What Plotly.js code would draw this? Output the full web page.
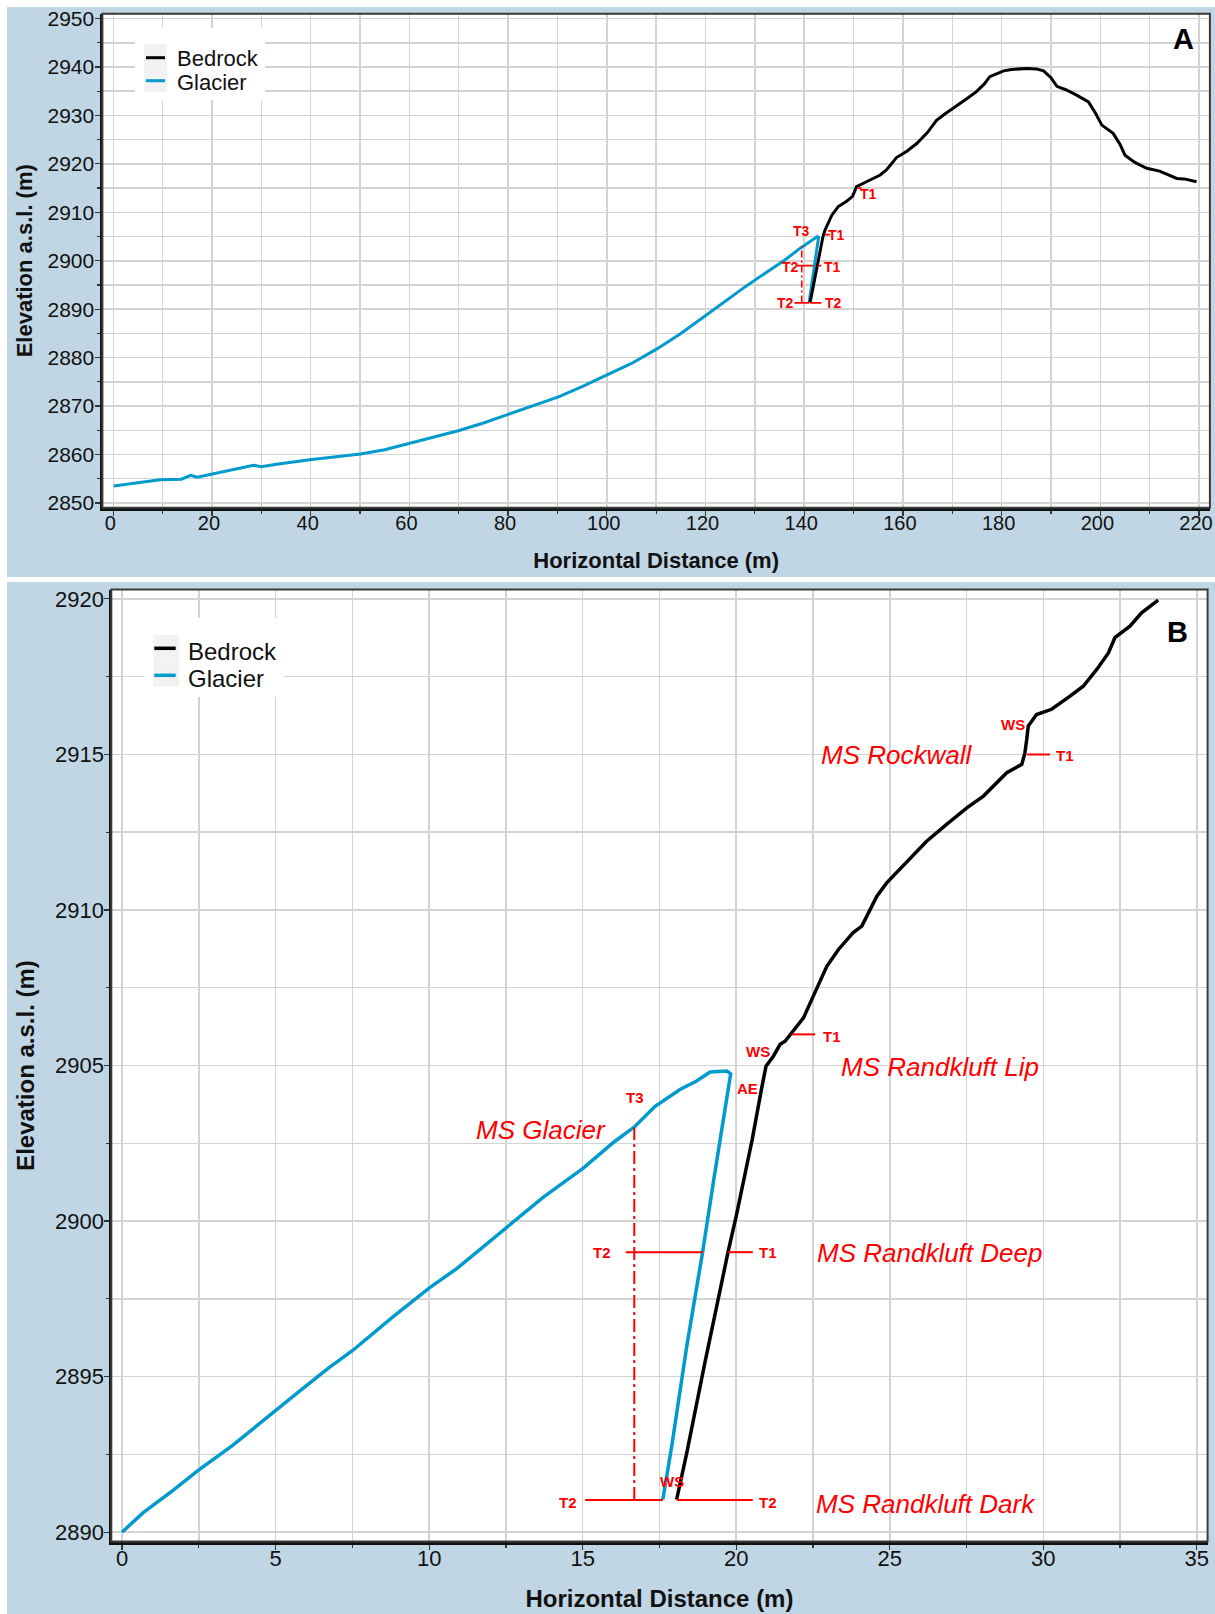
<!DOCTYPE html>
<html>
<head>
<meta charset="utf-8">
<script src="https://cdn.plot.ly/plotly-3.0.1.min.js"></script>
<style>html,body{margin:0;padding:0;background:#fff;}#chart{width:1215px;height:1614px;}</style>
</head>
<body>
<div id="chart"></div>
<script>
// ---------------- DATA ----------------
// Panel A (full profile)
const glacierA_x = [0.1,3,9.5,13.8,15.7,17,20,23.7,28.4,30,33.1,39.8,45.9,50.1,55,60,65,69.9,75,79.9,85,90.2,95,100.1,105,110,115,119.9,122,124,126,128,130,133,136,139.2,141,142.65,142.9,142.0,141.0];
const glacierA_y = [2853.5,2853.9,2854.8,2854.9,2855.7,2855.3,2856.0,2856.8,2857.8,2857.5,2858.0,2858.9,2859.6,2860.1,2861.0,2862.3,2863.5,2864.9,2866.5,2868.2,2870.0,2871.9,2874.0,2876.4,2878.8,2881.7,2885.0,2888.6,2890.2,2891.7,2893.2,2894.6,2896.0,2898.0,2900.1,2902.6,2903.8,2905.0,2904.8,2898.5,2891.4];
const bedrockA_x = [141.2,142.3,143.1,143.8,144.2,145.0,145.6,146.9,148.6,149.8,150.6,152.0,154.0,155.4,156.7,158.7,160.8,162.8,165,166.8,168.5,170.9,173,174.9,176.5,177.6,180.4,182,185.1,187,188.5,190,191.2,193,195.2,197.6,199,200.3,202.6,204,205.0,207,209.4,212,215.5,217,219.5];
const bedrockA_y = [2891.4,2897.0,2901.5,2905.0,2906.3,2908.3,2909.4,2911.2,2912.3,2913.3,2915.3,2916.0,2917.0,2917.7,2918.8,2921.3,2922.6,2924.2,2926.5,2929.0,2930.3,2932.1,2933.5,2934.9,2936.5,2938.0,2939.2,2939.5,2939.7,2939.6,2939.2,2937.8,2936.0,2935.3,2934.2,2932.8,2930.5,2928.0,2926.3,2924.0,2921.8,2920.3,2919.1,2918.5,2917.0,2916.9,2916.3];

// Panel B (randkluft detail)
const glacierB_x = [0,0.68,1.67,2.50,3.59,5.0,5.80,6.73,7.51,8.82,10.02,10.91,12.52,13.71,15.02,16.03,16.69,17.36,18.17,18.71,19.15,19.69,19.82,19.73,19.27,18.91,18.39,17.90,17.61];
const glacierB_y = [2890.0,2890.62,2891.35,2892.0,2892.78,2893.92,2894.55,2895.28,2895.84,2896.92,2897.86,2898.48,2899.80,2900.76,2901.70,2902.55,2903.03,2903.69,2904.23,2904.50,2904.79,2904.82,2904.73,2904.2,2901.34,2899.03,2895.98,2892.76,2891.05];
const bedrockB_x = [18.06,18.39,18.98,19.36,19.74,20.0,20.52,20.83,20.97,21.21,21.43,21.59,21.81,22.19,22.51,22.95,23.33,23.81,24.09,24.58,24.90,25.61,26.20,26.85,27.51,28.05,28.81,29.30,29.40,29.46,29.51,29.78,30.27,30.87,31.30,31.74,32.12,32.33,32.82,33.20,33.74];
const bedrockB_y = [2891.05,2892.55,2895.45,2897.26,2899.03,2900.16,2902.62,2904.28,2904.98,2905.30,2905.68,2905.78,2906.05,2906.53,2907.23,2908.19,2908.73,2909.27,2909.48,2910.44,2910.87,2911.62,2912.21,2912.75,2913.28,2913.66,2914.41,2914.68,2915.05,2915.48,2915.91,2916.28,2916.45,2916.87,2917.19,2917.73,2918.26,2918.75,2919.12,2919.55,2919.96];

// Red measurement tie lines (start x, end x, elevation)
const tieA_x0 = [150.8,144.2,138.5,142.7,138.0,141.2];
const tieA_x1 = [151.6,145.2,141.8,143.5,141.0,143.5];
const tieA_y  = [2915.0,2905.4,2899.0,2899.0,2891.3,2891.3];
const probeA_x = [139.5,139.5];
const probeA_y = [2891.4,2903.0];
const labA_text = ['T1','T3','T1','T2','T1','T2','T2'];
const labA_x = [153.1,139.5,146.5,137.3,145.7,136.3,145.9];
const labA_y = [2913.8,2906.1,2905.3,2898.8,2898.8,2891.2,2891.2];

const tieB_x0 = [29.46,21.81,16.40,19.72,15.08,18.06];
const tieB_x1 = [30.22,22.57,18.91,20.54,17.61,20.54];
const tieB_y  = [2915.0,2906.0,2899.0,2899.0,2891.03,2891.03];
const probeB_x = [16.68,16.68];
const probeB_y = [2891.03,2903.0];
const labB_text = ['WS','T1','T1','WS','AE','T3','T2','T1','WS','T2','T2'];
const labB_x = [29.02,30.71,23.11,20.70,20.36,16.70,15.62,21.05,17.90,14.52,21.05];
const labB_y = [2915.96,2914.97,2905.94,2905.45,2904.25,2903.96,2899.0,2899.0,2891.64,2890.96,2890.96];
const zoneB_text = ['MS Rockwall','MS Randkluft Lip','MS Glacier','MS Randkluft Deep','MS Randkluft Dark'];
const zoneB_x = [25.21,26.62,13.64,26.30,26.19];
const zoneB_y = [2914.97,2904.94,2902.94,2898.97,2890.9];

const legendNames = ['Bedrock','Glacier'];
const panelLetters = ['A','B'];
const xTitle = 'Horizontal Distance (m)';
const yTitle = 'Elevation a.s.l. (m)';

// ---------------- STYLE ----------------
const W = 1215, H = 1614;
const FONT = 'Liberation Sans, Arial, sans-serif';
const BLACK = '#000000', BLUE = '#009ACD', RED = '#ff0000';
const BG = '#c1d6e4', GRID = '#d3d3d3';
const px = v => v / W;
const py = v => 1 - v / H;

function segs(x0, x1, y) {
  const xs = [], ys = [];
  for (let i = 0; i < x0.length; i++) { xs.push(x0[i], x1[i], null); ys.push(y[i], y[i], null); }
  return {xs, ys};
}
const tA = segs(tieA_x0, tieA_x1, tieA_y);
const tB = segs(tieB_x0, tieB_x1, tieB_y);

const traces = [
  {x: glacierA_x, y: glacierA_y, xaxis: 'x', yaxis: 'y', mode: 'lines', name: legendNames[1], line: {color: BLUE, width: 3}, showlegend: false},
  {x: bedrockA_x, y: bedrockA_y, xaxis: 'x', yaxis: 'y', mode: 'lines', name: legendNames[0], line: {color: BLACK, width: 3}, showlegend: false},
  {x: tA.xs, y: tA.ys, xaxis: 'x', yaxis: 'y', mode: 'lines', line: {color: RED, width: 1.8}, showlegend: false, hoverinfo: 'skip'},
  {x: probeA_x, y: probeA_y, xaxis: 'x', yaxis: 'y', mode: 'lines', line: {color: RED, width: 1.6, dash: '7px,3px,2px,3px'}, showlegend: false, hoverinfo: 'skip'},
  {x: glacierB_x, y: glacierB_y, xaxis: 'x2', yaxis: 'y2', mode: 'lines', name: legendNames[1], line: {color: BLUE, width: 3.5}, showlegend: false},
  {x: bedrockB_x, y: bedrockB_y, xaxis: 'x2', yaxis: 'y2', mode: 'lines', name: legendNames[0], line: {color: BLACK, width: 3.5}, showlegend: false},
  {x: tB.xs, y: tB.ys, xaxis: 'x2', yaxis: 'y2', mode: 'lines', line: {color: RED, width: 2}, showlegend: false, hoverinfo: 'skip'},
  {x: probeB_x, y: probeB_y, xaxis: 'x2', yaxis: 'y2', mode: 'lines', line: {color: RED, width: 2, dash: '13px,4px,3px,4px'}, showlegend: false, hoverinfo: 'skip'}
];

function axisBase(tickSize, titleSize, text, standoff, labelShift) {
  return {
    showgrid: true, gridcolor: GRID, gridwidth: 1.5, zeroline: false,
    ticks: 'outside', ticklen: 5, tickwidth: 1.2, tickcolor: '#333',
    tickfont: {family: FONT, size: tickSize, color: '#111'},
    ticklabelstandoff: labelShift, ticklabeloverflow: 'allow',
    showline: true, linecolor: '#111',
    automargin: false,
    title: {text: '<b>' + text + '</b>', font: {family: FONT, size: titleSize, color: '#111'}, standoff: standoff}
  };
}

const layout = {
  width: W, height: H,
  margin: {l: 0, r: 0, t: 0, b: 0},
  paper_bgcolor: '#ffffff', plot_bgcolor: '#ffffff',
  showlegend: false,
  xaxis: Object.assign(axisBase(20, 22, xTitle, 20, -10), {
    domain: [px(102.4), px(1209.9)], range: [-2.2, 222.2], anchor: 'y',
    tick0: 0, dtick: 20, linewidth: 3, ticklabelshift: -3,
    minor: {dtick: 10, showgrid: true, gridcolor: GRID, gridwidth: 1.5, ticks: 'outside', ticklen: 3, tickcolor: '#333'}
  }),
  yaxis: Object.assign(axisBase(21, 22, yTitle, 9, -3), {
    domain: [py(507.8), py(13.7)], range: [2849, 2951], anchor: 'x',
    tick0: 2850, dtick: 10, linewidth: 2,
    minor: {dtick: 5, showgrid: true, gridcolor: GRID, gridwidth: 1.5, ticks: 'outside', ticklen: 3, tickcolor: '#333'}
  }),
  xaxis2: Object.assign(axisBase(22, 24, xTitle, 21, -10), {
    domain: [px(111.3), px(1207.6)], range: [-0.35, 35.35], anchor: 'y2',
    tick0: 0, dtick: 5, linewidth: 3,
    minor: {dtick: 2.5, showgrid: true, gridcolor: GRID, gridwidth: 1.5, ticks: 'outside', ticklen: 3, tickcolor: '#333'}
  }),
  yaxis2: Object.assign(axisBase(22, 24, yTitle, 14, -4), {
    domain: [py(1541.5), py(589.5)], range: [2889.7, 2920.3], anchor: 'x2',
    tick0: 2890, dtick: 5, linewidth: 2,
    minor: {dtick: 2.5, showgrid: true, gridcolor: GRID, gridwidth: 1.5, ticks: 'outside', ticklen: 3, tickcolor: '#333'}
  }),
  shapes: [],
  annotations: []
};

// Panel backgrounds
layout.shapes.push(
  {type: 'rect', xref: 'paper', yref: 'paper', x0: px(7), x1: 1, y0: py(577), y1: py(7), fillcolor: BG, line: {width: 0}, layer: 'below'},
  {type: 'rect', xref: 'paper', yref: 'paper', x0: px(7), x1: 1, y0: 0, y1: py(582), fillcolor: BG, line: {width: 0}, layer: 'below'},
  {type: 'rect', xref: 'x domain', yref: 'y domain', x0: 0, x1: 1, y0: 0, y1: 1, fillcolor: '#ffffff', line: {width: 0}, layer: 'below'},
  {type: 'rect', xref: 'x2 domain', yref: 'y2 domain', x0: 0, x1: 1, y0: 0, y1: 1, fillcolor: '#ffffff', line: {width: 0}, layer: 'below'},
  {type: 'rect', xref: 'x domain', yref: 'y domain', x0: 0, x1: 1, y0: 0, y1: 1, fillcolor: 'rgba(0,0,0,0)', line: {width: 2, color: '#3a3a3a'}, layer: 'above'},
  {type: 'rect', xref: 'x2 domain', yref: 'y2 domain', x0: 0, x1: 1, y0: 0, y1: 1, fillcolor: 'rgba(0,0,0,0)', line: {width: 2, color: '#3a3a3a'}, layer: 'above'}
);

// Custom legends (boxes, key swatches, key lines)
function addLegend(box, sw, lines, lw, textX, textY, fsize) {
  layout.shapes.push({type: 'rect', xref: 'paper', yref: 'paper', x0: px(box[0]), x1: px(box[1]), y0: py(box[3]), y1: py(box[2]), fillcolor: '#ffffff', line: {width: 0}, layer: 'above'});
  for (let i = 0; i < 2; i++) {
    layout.shapes.push({type: 'rect', xref: 'paper', yref: 'paper', x0: px(sw[0]), x1: px(sw[1]), y0: py(sw[2 + i + 1]), y1: py(sw[2 + i]), fillcolor: '#f2f2f2', line: {width: 0}, layer: 'above'});
    layout.shapes.push({type: 'line', xref: 'paper', yref: 'paper', x0: px(lines[0]), x1: px(lines[1]), y0: py(lines[2 + i]), y1: py(lines[2 + i]), line: {width: lw, color: i === 0 ? BLACK : BLUE}, layer: 'above'});
    layout.annotations.push({xref: 'paper', yref: 'paper', x: px(textX), y: py(textY[i]), xanchor: 'left', yanchor: 'middle', showarrow: false, text: legendNames[i], font: {family: FONT, size: fsize, color: '#111'}});
  }
}
addLegend([135, 265, 28, 100], [144, 167, 44.3, 68.3, 91.7], [146, 165, 57.7, 80.7], 3, 175, [58.5, 82], 22);
addLegend([143, 283, 618, 697], [153.3, 179, 635, 660.7, 686.7], [154.3, 175.7, 648.3, 675.3], 3.5, 186, [651, 678], 24);

// Panel letters
layout.annotations.push(
  {xref: 'paper', yref: 'paper', x: px(1183), y: py(39), xanchor: 'center', yanchor: 'middle', showarrow: false, text: '<b>' + panelLetters[0] + '</b>', font: {family: FONT, size: 29, color: '#000'}},
  {xref: 'paper', yref: 'paper', x: px(1177), y: py(632), xanchor: 'center', yanchor: 'middle', showarrow: false, text: '<b>' + panelLetters[1] + '</b>', font: {family: FONT, size: 29, color: '#000'}}
);

// Red labels
labA_text.forEach((t, i) => layout.annotations.push({xref: 'x', yref: 'y', x: labA_x[i], y: labA_y[i], showarrow: false, text: '<b>' + t + '</b>', font: {family: FONT, size: 14, color: RED}}));
labB_text.forEach((t, i) => layout.annotations.push({xref: 'x2', yref: 'y2', x: labB_x[i], y: labB_y[i], showarrow: false, text: '<b>' + t + '</b>', font: {family: FONT, size: 15, color: RED}}));
zoneB_text.forEach((t, i) => layout.annotations.push({xref: 'x2', yref: 'y2', x: zoneB_x[i], y: zoneB_y[i], showarrow: false, text: '<i>' + t + '</i>', font: {family: FONT, size: 26, color: RED}}));

Plotly.newPlot('chart', traces, layout, {staticPlot: true, displayModeBar: false});
</script>
</body>
</html>
